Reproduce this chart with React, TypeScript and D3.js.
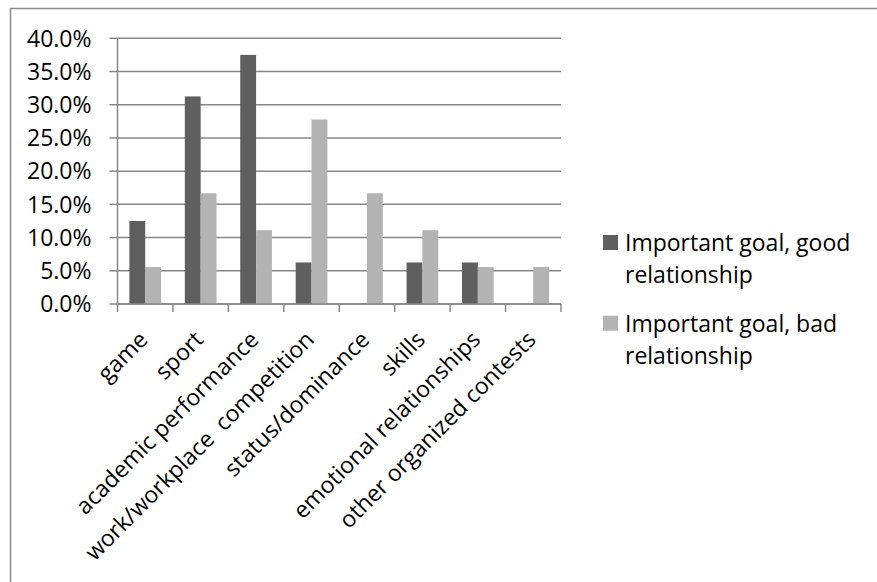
import React from "react";
import * as d3 from "d3";

const categories = [
  "game",
  "sport",
  "academic performance",
  "work/workplace  competition",
  "status/dominance",
  "skills",
  "emotional relationships",
  "other organized contests",
];
const goodRelationship = [0.125, 0.3125, 0.375, 0.0625, 0, 0.0625, 0.0625, 0];
const badRelationship = [0.0556, 0.1667, 0.1111, 0.2778, 0.1667, 0.1111, 0.0556, 0.0556];
const seriesNames = ["Important goal, good relationship", "Important goal, bad relationship"];
const seriesLines = [
  ["Important goal, good", "relationship"],
  ["Important goal, bad", "relationship"],
];
const yTicks = [0, 0.05, 0.1, 0.15, 0.2, 0.25, 0.3, 0.35, 0.4];

const W = 877;
const H = 582;
const FONT = "'Open Sans', 'Noto Sans', sans-serif";
const FS = 23;
const COLORS = ["#5f5f5f", "#b3b3b3"];
const GRID = "#878787";

export default function App() {
  const left = 117.5;
  const right = 561;
  const top = 38.3;
  const bottom = 304;

  const x0 = d3
    .scaleBand<string>()
    .domain(categories)
    .range([left, right])
    .paddingInner(0.4286)
    .paddingOuter(0.2143);
  const x1 = d3.scaleBand<number>().domain([0, 1]).range([0, x0.bandwidth()]);
  const y = d3.scaleLinear().domain([0, 0.4]).range([bottom, top]);
  const step = x0.step();
  const fmt = d3.format(".1%");
  const series = [goodRelationship, badRelationship];

  return (
    <svg width={W} height={H} style={{ display: "block", position: "absolute", left: 0, top: 0 }}>
      <rect x={0} y={0} width={W} height={H} fill="#fff" />
      <rect x={10.5} y={8.5} width={W + 40} height={H + 40} fill="none" stroke="#8a8a8a" strokeWidth={1.5} />

      {/* horizontal gridlines */}
      {yTicks.map((t) => (
        <line key={"g" + t} x1={left} x2={right} y1={y(t)} y2={y(t)} stroke={GRID} strokeWidth={1.5} />
      ))}

      {/* bars */}
      {categories.map((c, i) =>
        series.map((s, k) =>
          s[i] > 0 ? (
            <rect
              key={c + k}
              x={(x0(c) as number) + (x1(k) as number)}
              y={y(s[i])}
              width={x1.bandwidth()}
              height={y(0) - y(s[i])}
              fill={COLORS[k]}
            />
          ) : null
        )
      )}

      {/* y axis */}
      <line x1={left} x2={left} y1={top} y2={bottom} stroke={GRID} strokeWidth={1.5} />
      {yTicks.map((t) => (
        <g key={"y" + t}>
          <line x1={left - 8} x2={left} y1={y(t)} y2={y(t)} stroke={GRID} strokeWidth={1.5} />
          <text
            x={left - 26}
            y={y(t)}
            dy="0.36em"
            textAnchor="end"
            fontFamily={FONT}
            fontSize={FS}
            fill="#000"
          >
            {fmt(t)}
          </text>
        </g>
      ))}

      {/* x axis */}
      <line x1={left} x2={right} y1={bottom} y2={bottom} stroke={GRID} strokeWidth={1.5} />
      {d3.range(categories.length + 1).map((i) => (
        <line
          key={"xt" + i}
          x1={left + i * step}
          x2={left + i * step}
          y1={bottom}
          y2={bottom + 8}
          stroke={GRID}
          strokeWidth={1.5}
        />
      ))}
      {categories.map((c) => {
        const cx = (x0(c) as number) + x0.bandwidth() / 2 + 4;
        const cy = bottom + 37;
        return (
          <text
            key={"xl" + c}
            x={cx}
            y={cy}
            textAnchor="end"
            transform={`rotate(-45 ${cx} ${cy})`}
            fontFamily={FONT}
            fontSize={FS}
            fill="#000"
            style={{ whiteSpace: "pre" }}
          >
            {c}
          </text>
        );
      })}

      {/* legend */}
      {seriesNames.map((name, k) => {
        const ly = 235 + k * 80.7;
        return (
          <g key={name}>
            <rect x={603} y={ly} width={15} height={15} fill={COLORS[k]} />
            {seriesLines[k].map((line, j) => (
              <text
                key={j}
                x={625}
                y={ly + 16 + j * 32}
                fontFamily={FONT}
                fontSize={FS}
                fill="#000"
              >
                {line}
              </text>
            ))}
          </g>
        );
      })}
    </svg>
  );
}
